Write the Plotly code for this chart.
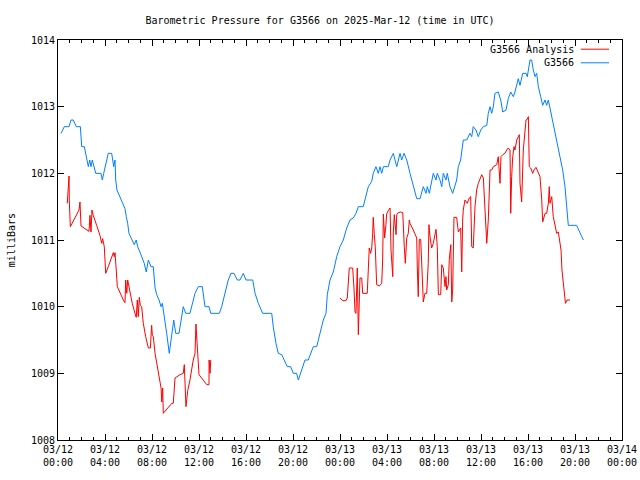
import pandas as pd
import plotly.graph_objects as go

# ---- data (hours since 2025-03-12 00:00 UTC, pressure in mbar) ----
station_hours = [0.26, 0.54, 0.94, 1.11, 1.30, 1.56, 1.90, 2.02, 2.24, 2.36, 2.58, 2.70, 2.81, 2.92, 3.04,
                 3.21, 3.66, 3.77, 3.89, 4.11, 4.28, 4.57, 4.74, 4.85, 4.91, 5.02, 5.25, 5.53, 5.70, 5.81,
                 5.93, 6.04, 6.32, 6.49, 6.66, 6.78, 7.06, 7.34, 7.51, 7.69, 7.91, 8.11, 8.26, 8.40, 8.60,
                 8.77, 8.88, 9.02, 9.25, 9.47, 9.68, 9.85, 10.02, 10.30, 10.66, 10.87, 11.23, 11.66, 11.94,
                 12.28, 12.51, 12.85, 13.00, 13.73, 13.93, 14.21, 14.49, 14.72, 14.98, 15.26, 15.49, 15.77,
                 16.00, 16.57, 16.77, 17.05, 17.42, 18.19, 18.32, 18.55, 18.75, 19.04, 19.32, 19.51, 19.80,
                 20.03, 20.31, 20.45, 20.74, 21.02, 21.30, 21.73, 22.02, 22.30, 22.58, 22.81, 22.92, 23.15,
                 23.43, 23.72, 24.00, 24.28, 24.57, 24.85, 25.13, 25.36, 25.56, 25.98, 26.13, 26.41, 26.70,
                 26.83, 27.06, 27.26, 27.40, 27.55, 27.69, 28.11, 28.26, 28.54, 28.68, 28.83, 29.11, 29.25,
                 29.45, 29.68, 29.96, 30.10, 30.38, 30.53, 30.81, 31.09, 31.32, 31.43, 31.60, 31.80, 31.94,
                 32.17, 32.28, 32.51, 32.66, 32.79, 33.02, 33.13, 33.36, 33.59, 33.79, 33.93, 34.07, 34.27,
                 34.49, 34.78, 35.06, 35.21, 35.34, 35.57, 35.77, 35.98, 36.20, 36.49, 36.62, 36.77, 36.91,
                 37.05, 37.19, 37.47, 37.68, 37.85, 38.13, 38.32, 38.53, 38.75, 38.89, 39.04, 39.17, 39.32,
                 39.55, 39.83, 39.94, 40.17, 40.31, 40.45, 40.60, 40.74, 40.88, 41.08, 41.25, 41.45, 41.59,
                 41.73, 41.87, 42.15, 42.38, 42.58, 42.78, 42.95, 43.15, 43.29, 43.43, 44.14, 44.43, 44.71]
station_mbar = [1012.60, 1012.70, 1012.70, 1012.80, 1012.80, 1012.70, 1012.70, 1012.40, 1012.40, 1012.30,
                1012.10, 1012.20, 1012.10, 1012.20, 1012.10, 1012.00, 1012.00, 1011.90, 1012.00, 1012.20,
                1012.30, 1012.30, 1012.10, 1012.20, 1011.90, 1011.75, 1011.65, 1011.52, 1011.47, 1011.35,
                1011.25, 1011.10, 1011.00, 1010.93, 1011.00, 1010.90, 1010.78, 1010.65, 1010.52, 1010.70,
                1010.60, 1010.60, 1010.28, 1010.18, 1010.10, 1010.00, 1010.05, 1009.90, 1009.60, 1009.30,
                1009.55, 1009.80, 1009.60, 1009.60, 1010.00, 1009.90, 1009.90, 1010.20, 1010.30, 1010.30,
                1010.00, 1010.00, 1009.90, 1009.90, 1010.00, 1010.20, 1010.40, 1010.50, 1010.50, 1010.40,
                1010.40, 1010.50, 1010.40, 1010.40, 1010.20, 1010.05, 1009.90, 1009.90, 1009.70, 1009.45,
                1009.30, 1009.28, 1009.17, 1009.10, 1009.10, 1009.00, 1009.00, 1008.90, 1009.05, 1009.20,
                1009.20, 1009.40, 1009.40, 1009.62, 1009.80, 1009.90, 1010.18, 1010.40, 1010.52, 1010.75,
                1010.90, 1011.00, 1011.18, 1011.30, 1011.33, 1011.40, 1011.50, 1011.50, 1011.60, 1011.80,
                1011.88, 1012.00, 1012.10, 1012.00, 1012.10, 1012.00, 1012.10, 1012.10, 1012.20, 1012.30,
                1012.20, 1012.10, 1012.30, 1012.20, 1012.30, 1012.20, 1012.00, 1011.90, 1011.70, 1011.62,
                1011.62, 1011.80, 1011.70, 1011.80, 1011.70, 1011.90, 1012.00, 1011.90, 1012.00, 1011.90,
                1011.80, 1012.00, 1011.90, 1012.00, 1011.80, 1011.70, 1011.80, 1011.90, 1012.10, 1012.20,
                1012.50, 1012.50, 1012.60, 1012.55, 1012.70, 1012.65, 1012.55, 1012.65, 1012.70, 1012.72,
                1012.90, 1013.00, 1012.90, 1013.00, 1013.20, 1013.22, 1013.10, 1012.92, 1012.95, 1013.12,
                1013.22, 1013.15, 1013.22, 1013.32, 1013.42, 1013.32, 1013.50, 1013.50, 1013.45, 1013.70,
                1013.70, 1013.55, 1013.45, 1013.50, 1013.30, 1013.15, 1013.02, 1013.10, 1013.02, 1013.10,
                1012.98, 1012.72, 1012.55, 1012.38, 1012.20, 1012.05, 1011.80, 1011.50, 1011.22, 1011.22,
                1011.12, 1011.00]

analysis_hours_a = [0.79, 0.88, 0.94, 0.96, 1.05, 1.79, 1.87, 1.96, 2.64, 2.72, 2.81, 2.89, 3.00, 3.29, 3.57,
                    3.72, 3.80, 3.94, 4.00, 4.06, 4.28, 4.57, 4.71, 4.79, 4.85, 4.91, 5.00, 5.05, 5.56, 5.70,
                    5.76, 5.85, 5.93, 6.13, 6.32, 6.55, 6.66, 6.75, 6.83, 6.92, 7.00, 7.12, 7.26, 7.46, 7.69,
                    7.86, 7.97, 8.03, 8.11, 8.26, 8.40, 8.60, 8.77, 8.83, 8.91, 8.96, 9.39, 9.68, 9.81, 9.96,
                    10.38, 10.66, 10.75, 10.89, 11.04, 11.23, 11.51, 11.66, 11.74, 11.80, 11.89, 12.00, 12.66,
                    12.85, 12.86, 12.94, 13.00]
analysis_mbar_a = [1011.55, 1011.79, 1011.96, 1011.60, 1011.20, 1011.45, 1011.57, 1011.21, 1011.13, 1011.37,
                   1011.12, 1011.45, 1011.37, 1011.22, 1011.07, 1010.95, 1011.02, 1010.90, 1010.65, 1010.50,
                   1010.60, 1010.76, 1010.81, 1010.75, 1010.81, 1010.67, 1010.40, 1010.30, 1010.10, 1010.06,
                   1010.40, 1010.20, 1010.40, 1010.20, 1010.05, 1009.90, 1009.84, 1010.10, 1009.85, 1010.14,
                   1010.02, 1010.00, 1009.75, 1009.55, 1009.38, 1009.38, 1009.72, 1009.57, 1009.55, 1009.30,
                   1009.15, 1008.93, 1008.78, 1008.57, 1008.78, 1008.40, 1008.48, 1008.55, 1008.55, 1008.93,
                   1008.98, 1009.00, 1009.13, 1008.50, 1008.74, 1008.90, 1009.20, 1009.30, 1009.74, 1009.55,
                   1009.16, 1008.98, 1008.83, 1008.83, 1009.20, 1009.00, 1009.20]

analysis_hours_b = [24.00, 24.23, 24.51, 24.62, 24.79, 25.08, 25.19, 25.28, 25.36, 25.42, 25.47, 25.56, 25.64,
                    25.70, 25.85, 25.93, 26.32, 26.41, 26.49, 26.61, 26.70, 26.78, 26.83, 26.92, 27.00, 27.12,
                    27.34, 27.55, 27.63, 27.69, 27.80, 27.91, 27.97, 28.11, 28.26, 28.34, 28.40, 28.49, 28.54,
                    28.62, 28.77, 28.83, 28.96, 29.17, 29.34, 29.39, 29.47, 29.56, 29.62, 29.68, 29.81, 29.90,
                    29.96, 30.10, 30.24, 30.38, 30.53, 30.58, 30.66, 30.75, 30.87, 30.95, 31.09, 31.23, 31.38,
                    31.51, 31.57, 31.66, 31.80, 31.94, 32.17, 32.28, 32.37, 32.57, 32.66, 32.79, 32.85, 32.94,
                    33.02, 33.08, 33.22, 33.30, 33.43, 33.51, 33.59, 33.70, 33.93, 34.07, 34.27, 34.36, 34.44,
                    34.49, 34.64, 34.83, 35.00, 35.12, 35.21, 35.34, 35.49, 35.63, 35.77, 36.06, 36.20, 36.34,
                    36.49, 36.62, 36.77, 36.91, 37.05, 37.34, 37.47, 37.62, 37.70, 37.85, 38.04, 38.19, 38.32,
                    38.47, 38.53, 38.61, 38.70, 38.81, 38.89, 39.04, 39.17, 39.26, 39.32, 39.46, 39.60, 39.69,
                    39.83, 39.94, 40.03, 40.11, 40.23, 40.40, 40.51, 40.68, 40.88, 41.02, 41.17, 41.25, 41.45,
                    41.59, 41.73, 41.81, 41.87, 42.02, 42.15, 42.30, 42.44, 42.58, 42.72, 42.81, 42.89, 43.06,
                    43.19, 43.32, 43.57]
analysis_mbar_b = [1010.13, 1010.09, 1010.09, 1010.13, 1010.58, 1010.58, 1010.28, 1009.92, 1009.90, 1010.20,
                   1010.58, 1009.58, 1010.10, 1010.43, 1010.43, 1010.20, 1010.20, 1010.52, 1010.88, 1010.80,
                   1010.88, 1011.10, 1011.34, 1011.08, 1010.90, 1010.33, 1010.31, 1010.35, 1010.70, 1011.39,
                   1011.03, 1011.23, 1011.39, 1011.44, 1011.48, 1010.85, 1010.73, 1010.45, 1011.12, 1011.38,
                   1011.08, 1011.38, 1011.41, 1011.42, 1011.41, 1011.10, 1010.90, 1010.65, 1010.82, 1011.03,
                   1011.10, 1011.30, 1011.25, 1011.21, 1011.15, 1011.09, 1011.03, 1010.58, 1010.15, 1011.01,
                   1011.01, 1010.67, 1010.07, 1010.20, 1010.20, 1010.65, 1011.23, 1011.05, 1010.88, 1010.95,
                   1011.16, 1010.90, 1010.18, 1010.18, 1010.63, 1010.58, 1010.43, 1010.30, 1010.45, 1010.25,
                   1010.33, 1010.71, 1010.93, 1010.07, 1010.25, 1011.34, 1011.34, 1011.12, 1011.18, 1010.52,
                   1011.30, 1011.45, 1011.60, 1011.55, 1011.63, 1011.65, 1010.90, 1010.88, 1011.50, 1011.75,
                   1011.85, 1011.98, 1011.93, 1011.45, 1010.95, 1011.30, 1012.05, 1012.05, 1012.10, 1012.13,
                   1012.25, 1011.85, 1012.25, 1012.28, 1012.30, 1012.35, 1012.38, 1012.35, 1011.40, 1011.95,
                   1012.25, 1012.40, 1012.35, 1012.50, 1012.55, 1012.58, 1011.85, 1011.57, 1012.35, 1012.53,
                   1012.80, 1012.81, 1012.85, 1012.10, 1012.08, 1012.00, 1012.05, 1012.09, 1012.02, 1011.95,
                   1011.60, 1011.27, 1011.40, 1011.40, 1011.55, 1011.80, 1011.55, 1011.65, 1011.35, 1011.20,
                   1011.10, 1011.12, 1010.95, 1010.85, 1010.55, 1010.25, 1010.05, 1010.10, 1010.10]

title_text = "Barometric Pressure for G3566 on 2025-Mar-12 (time in UTC)"
series_names = ["G3566 Analysis", "G3566"]
y_label = "milliBars"

base = pd.Timestamp("2025-03-12 00:00")


def to_time(hours):
    return list(base + pd.to_timedelta(hours, unit="h"))


# single analysis trace with a break in the missing period
analysis_t = to_time(analysis_hours_a) + [None] + to_time(analysis_hours_b)
analysis_v = analysis_mbar_a + [None] + analysis_mbar_b

RED = "#ff0000"
BLUE = "#0080ff"
FONT = "DejaVu Sans Mono"

W, H = 640, 480

fig = go.Figure()
fig.add_trace(go.Scatter(x=analysis_t, y=analysis_v, mode="lines", name=series_names[0],
                         line=dict(color=RED, width=1), connectgaps=False, showlegend=False))
fig.add_trace(go.Scatter(x=to_time(station_hours), y=station_mbar, mode="lines", name=series_names[1],
                         line=dict(color=BLUE, width=1), showlegend=False))

axis_common = dict(showline=True, linecolor="black", linewidth=1, mirror="allticks",
                   ticks="inside", ticklen=6, tickcolor="black", showgrid=False, zeroline=False,
                   automargin=False, ticklabeloverflow="allow",
                   tickfont=dict(family=FONT, size=10, color="black"))

fig.update_xaxes(range=[base, base + pd.Timedelta(hours=48)], type="date",
                 dtick=4 * 3600 * 1000, tick0=base, tickformat="%m/%d<br>%H:%M",
                 minor=dict(dtick=3600 * 1000, ticks="inside", ticklen=3, tickcolor="black"),
                 **axis_common)
fig.update_yaxes(range=[1008, 1014], dtick=1, **axis_common)

# legend drawn gnuplot-style (text right-aligned, line sample to its right)
legend_y = [0.977, 0.943]
legend_colors = [RED, BLUE]
for name, yy, col in zip(series_names, legend_y, legend_colors):
    fig.add_annotation(x=0.918, y=yy, xref="paper", yref="paper", text=name, showarrow=False,
                       xanchor="right", yanchor="middle", font=dict(family=FONT, size=10, color="black"))
    fig.add_shape(type="line", xref="paper", yref="paper", x0=0.927, x1=0.977, y0=yy, y1=yy,
                  line=dict(color=col, width=1))

fig.add_annotation(x=-0.083, y=0.5, xref="paper", yref="paper", text=y_label, showarrow=False,
                   textangle=-90, xanchor="center", yanchor="middle",
                   font=dict(family=FONT, size=10, color="black"))

fig.update_layout(
    width=W, height=H,
    margin=dict(l=58, r=18, t=40, b=40, autoexpand=False),
    paper_bgcolor="white", plot_bgcolor="white",
    title=dict(text=title_text, x=0.5, xanchor="center", y=1 - 20 / H, yanchor="middle",
               font=dict(family=FONT, size=10, color="black")),
    font=dict(family=FONT, size=10, color="black"),
)

# remove the browser's default page margin so the 640x480 figure fills the window exactly
fig.write_html("out.html", config={"displayModeBar": False},
               post_script="document.body.style.margin='0px';")
